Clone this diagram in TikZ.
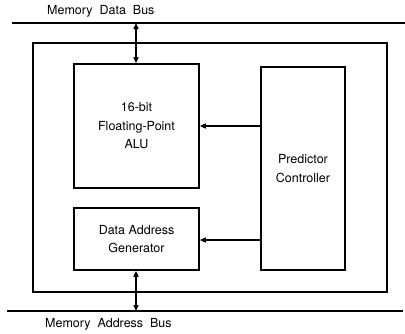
\documentclass[tikz,border=0pt]{standalone}
\usepackage{fontspec}
\setmainfont{TeX Gyre Heros}
\usetikzlibrary{arrows.meta}
\begin{document}
\begin{tikzpicture}[x=1pt,y=-1pt,
  blk/.style={draw,line width=1.6pt,inner sep=0pt},
  lbl/.style={font=\fontsize{12.5}{18.5}\selectfont,align=center},
  bus/.style={line width=1.8pt},
  sig/.style={line width=1.4pt,-{Triangle[length=6pt,width=5pt]}},
  bisig/.style={line width=1.4pt,{Triangle[length=6pt,width=5pt]}-{Triangle[length=6pt,width=5pt]}}]
\useasboundingbox (0,0) rectangle (405,333);
% buses
\coordinate (dbL) at (12,23);
\coordinate (dbR) at (405,23);
\coordinate (abL) at (7,311);
\coordinate (abR) at (403,311);
\draw[bus] (dbL) -- (dbR);
\draw[bus] (abL) -- (abR);
\node[lbl,anchor=west,inner sep=0pt] (dbt) at (47,11) {Memory\ \ Data\ \ Bus};
\node[lbl,anchor=west,inner sep=0pt] (abt) at (45,324) {Memory\ \ Address\ \ Bus};
% chip outline
\node[blk,minimum width=354pt,minimum height=249pt] (chip) at (210,167.5) {};
% functional blocks
\node[blk,lbl,minimum width=125pt,minimum height=124pt] (alu) at (136.5,126) {16-bit\\Floating-Point\\ALU};
\node[blk,lbl,minimum width=125pt,minimum height=62pt] (dag) at (136.5,239) {Data Address\\Generator};
\node[blk,lbl,minimum width=84pt,minimum height=203pt] (pc) at (303,168.5) {Predictor\\Controller};
% connections
\coordinate (dbT) at (136,23);
\coordinate (abB) at (136,311);
\draw[bisig] (dbT) -- (alu.north -| dbT);
\draw[bisig] (dag.south -| abB) -- (abB);
\draw[sig] (pc.west |- alu.east) -- (alu.east);
\draw[sig] (pc.west |- 0,240) -- (dag.east |- 0,240);
\end{tikzpicture}
\end{document}
